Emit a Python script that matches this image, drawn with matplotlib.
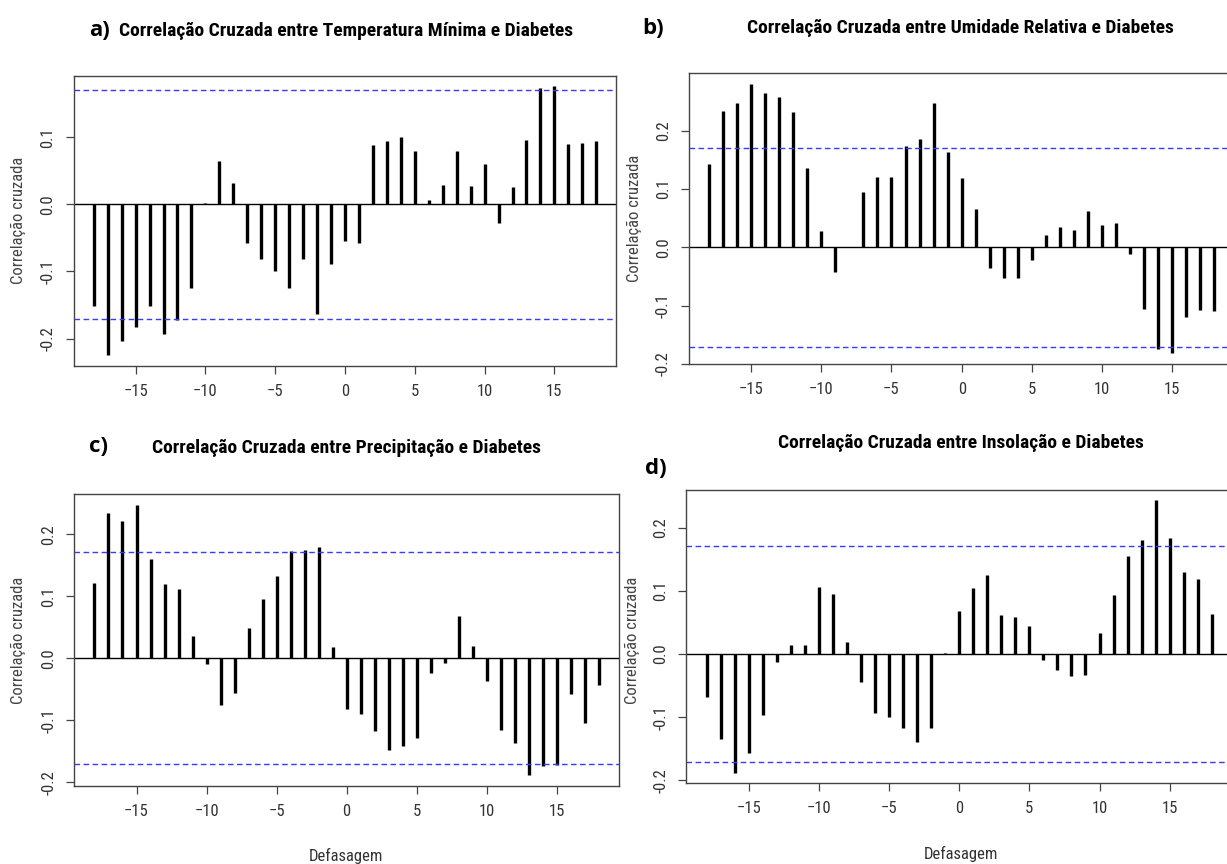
import numpy as np
import matplotlib
matplotlib.use("Agg")
import matplotlib.pyplot as plt
from matplotlib import font_manager

# pick a narrow font if there is one
names = {f.name for f in font_manager.fontManager.ttflist}
narrow = "DejaVu Sans"
for cand in ["Liberation Sans Narrow", "Roboto Condensed", "Open Sans Condensed", "Liberation Sans"]:
    if cand in names:
        narrow = cand
        break
plt.rcParams['font.family'] = [narrow, 'DejaVu Sans']

lags = np.arange(-18, 19)

temp_min = [-0.152, -0.225, -0.204, -0.183, -0.152, -0.193, -0.172, -0.124, 0.002,
            0.065, 0.032, -0.058, -0.081, -0.099, -0.124, -0.081, -0.163, -0.089,
            -0.055, -0.057, 0.089, 0.094, 0.101, 0.079, 0.007, 0.029, 0.079,
            0.028, 0.060, -0.027, 0.026, 0.096, 0.174, 0.176, 0.090, 0.092, 0.095]

umidade = [0.144, 0.234, 0.248, 0.281, 0.266, 0.258, 0.232, 0.136, 0.028,
           -0.042, 0.001, 0.095, 0.120, 0.120, 0.174, 0.186, 0.248, 0.163,
           0.119, 0.065, -0.035, -0.053, -0.053, -0.021, 0.021, 0.035, 0.029,
           0.063, 0.039, 0.041, -0.011, -0.106, -0.175, -0.182, -0.120, -0.108, -0.110]

precip = [0.121, 0.235, 0.222, 0.248, 0.160, 0.120, 0.111, 0.036, -0.010,
          -0.075, -0.056, 0.049, 0.096, 0.132, 0.173, 0.175, 0.180, 0.019,
          -0.082, -0.090, -0.118, -0.148, -0.142, -0.128, -0.023, -0.007, 0.068,
          0.020, -0.037, -0.115, -0.137, -0.189, -0.174, -0.172, -0.058, -0.105, -0.043]

insol = [-0.068, -0.135, -0.188, -0.157, -0.097, -0.013, 0.014, 0.014, 0.106,
         0.095, 0.019, -0.044, -0.093, -0.099, -0.118, -0.139, -0.117, 0.001,
         0.068, 0.105, 0.126, 0.062, 0.059, 0.045, -0.010, -0.025, -0.035,
         -0.033, 0.034, 0.094, 0.156, 0.181, 0.244, 0.184, 0.131, 0.119, 0.063]

conf = 0.171

titles = ["Correlação Cruzada entre Temperatura Mínima e Diabetes",
          "Correlação Cruzada entre Umidade Relativa e Diabetes",
          "Correlação Cruzada entre Precipitação e Diabetes",
          "Correlação Cruzada entre Insolação e Diabetes"]
letters = ["a)", "b)", "c)", "d)"]

W, H = 1227, 864
fig = plt.figure(figsize=(W / 100, H / 100), dpi=100)


def px(x0, y0, x1, y1):
    return [x0 / W, 1 - y1 / H, (x1 - x0) / W, (y1 - y0) / H]


panels = [
    (temp_min, px(73.6, 75.7, 616.4, 366), (-0.241, 0.192), [-0.2, -0.1, 0.0, 0.1]),
    (umidade, px(688.7, 73.3, 1234.7, 363.7), (-0.199, 0.299), [-0.2, -0.1, 0.0, 0.1, 0.2]),
    (precip, px(74.3, 494, 619, 786), (-0.206, 0.265), [-0.2, -0.1, 0.0, 0.1, 0.2]),
    (insol, px(686.4, 490.3, 1232, 783.3), (-0.205, 0.260), [-0.2, -0.1, 0.0, 0.1, 0.2]),
]

axes = []
for vals, pos, ylim, yt in panels:
    ax = fig.add_axes(pos)
    ax.vlines(lags, 0, vals, color='black', lw=2.4)
    ax.axhline(0, color='black', lw=1)
    ax.axhline(conf, color='#3a3aff', lw=1, ls=(0, (4, 2.5)))
    ax.axhline(-conf, color='#3a3aff', lw=1, ls=(0, (4, 2.5)))
    ax.set_xlim(-19.44, 19.44)
    ax.set_ylim(*ylim)
    ax.set_xticks([-15, -10, -5, 0, 5, 10, 15])
    ax.set_yticks(yt)
    ax.set_yticklabels([f"{v:.1f}" for v in yt], rotation=90, va='center')
    ax.tick_params(length=6, width=0.9, color='#444444', labelcolor='#333333',
                   labelsize=12, pad=7)
    for s in ax.spines.values():
        s.set_color('#444444')
        s.set_linewidth(1)
    axes.append(ax)

# titles and panel letters
tkw = dict(ha='center', va='center', fontsize=14, fontweight='bold')
fig.text(346 / W, 1 - 31 / H, titles[0], **tkw)
fig.text(960 / W, 1 - 28 / H, titles[1], **tkw)
fig.text(346 / W, 1 - 448 / H, titles[2], **tkw)
fig.text(961 / W, 1 - 443 / H, titles[3], **tkw)

lkw = dict(ha='center', va='center', fontsize=16, fontweight='bold', family=['Open Sans', 'DejaVu Sans'])
fig.text(100 / W, 1 - 30 / H, letters[0], **lkw)
fig.text(653 / W, 1 - 28 / H, letters[1], **lkw)
fig.text(99 / W, 1 - 446 / H, letters[2], **lkw)
fig.text(656 / W, 1 - 469 / H, letters[3], **lkw)

# axis labels
for x, y in [(18, 220), (634, 218), (18, 640), (632, 640)]:
    fig.text(x / W, 1 - y / H, "Correlação cruzada", rotation=90, ha='center', va='center',
             fontsize=12, color='#444444')
fig.text(346 / W, 1 - 856 / H, "Defasagem", ha='center', va='center', fontsize=12, color='#333333')
fig.text(961 / W, 1 - 854 / H, "Defasagem", ha='center', va='center', fontsize=12, color='#333333')

fig.savefig("out.png", dpi=100)
